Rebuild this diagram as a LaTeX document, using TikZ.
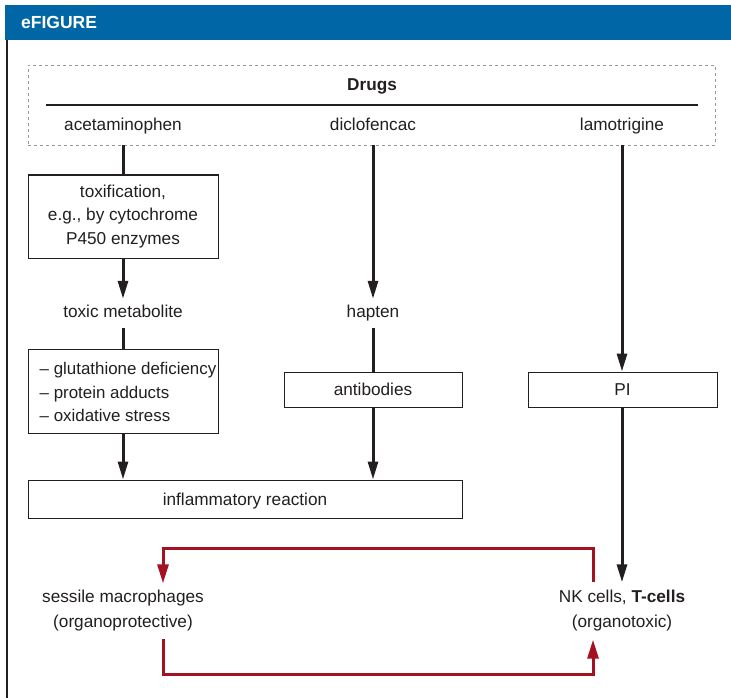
\documentclass[tikz,border=0pt]{standalone}
\usepackage{fontspec}
\setmainfont{Liberation Sans}
\usetikzlibrary{arrows.meta}
\definecolor{hdrblue}{RGB}{0,102,166}
\definecolor{darkred}{RGB}{163,18,32}
\definecolor{ink}{RGB}{35,31,32}
\tikzset{
  txt/.style={inner sep=0pt, align=center, text=ink, font=\fontsize{17.2}{23.5}\selectfont},
  oneline/.style={txt, text height=12.4pt, text depth=3.6pt},
  boxnode/.style={draw=ink, line width=1pt, inner sep=0pt, align=center, text=ink,
     font=\fontsize{17.2}{23.5}\selectfont},
  onebox/.style={boxnode, text height=12.4pt, text depth=0pt},
  conn/.style={draw=ink, line width=3pt},
  arr/.style={conn, -{Triangle[length=18pt,width=10pt]}},
  redarr/.style={draw=darkred, line width=3pt, -{Triangle[length=19pt,width=11pt]}},
}
\begin{document}
\begin{tikzpicture}[x=1pt,y=-1pt]
\useasboundingbox (0,0) rectangle (731,698);
\fill[white] (0,0) rectangle (731,698);
% header
\fill[hdrblue] (5,5) rectangle (731,40);
\node[anchor=west, inner sep=0pt, text=white, font=\fontsize{17.5}{20}\bfseries\selectfont] (hdr) at (21,22.5) {eFIGURE};
\draw[ink, line width=2pt] (7,40) -- (7,698);

% drugs box
\node[draw=gray!80, dashed, line width=0.9pt, minimum width=687pt, minimum height=80pt, inner sep=0pt] (drugsbox) at (371.5,105) {};
\node[oneline, font=\fontsize{17.2}{20}\bfseries\selectfont] (drugs) at (372,86) {Drugs};
\coordinate (hl) at (46,105);
\coordinate (hr) at (698,105);
\draw[ink, line width=1.4pt] (hl) -- (hr);
\node[oneline] (acet) at (123,126) {acetaminophen};
\node[oneline] (dicl) at (373,126) {diclofencac};
\node[oneline] (lamo) at (622,126) {lamotrigine};

% left column
\node[boxnode, minimum width=190pt, minimum height=83pt] (tox) at (123,216.5) {toxification,\\e.g., by cytochrome\\P450 enzymes};
\node[oneline, minimum height=29pt] (toxmet) at (123,313.5) {toxic metabolite};
\node[boxnode, minimum width=190pt, minimum height=84pt] (box2) at (123,391) {};
\node[txt, anchor=west, align=left, font=\fontsize{16.9}{23.5}\selectfont] (box2t) at ([xshift=12pt,yshift=-1pt]box2.west) {-- glutathione deficiency\\-- protein adducts\\-- oxidative stress};
\node[onebox, minimum width=434pt, minimum height=38pt] (inflam) at (245,499) {inflammatory reaction};

% middle column
\node[oneline, minimum height=29pt] (hapten) at (373,313.5) {hapten};
\node[onebox, minimum width=178pt, minimum height=35pt] (antib) at (373,389.5) {antibodies};

% right column
\node[onebox, minimum width=189pt, minimum height=35pt] (pi) at (622.5,389.5) {PI};

% bottom texts
\node[txt, minimum height=55pt, align=center, font=\fontsize{17.2}{25}\selectfont] (mac) at (123,611) {sessile macrophages\\(organoprotective)};
\node[txt, minimum height=57pt, align=center, font=\fontsize{17.2}{25}\selectfont] (nk) at (622,611) {NK cells, \textbf{T-cells}\\(organotoxic)};

% connectors
\draw[conn] (drugsbox.south -| tox.north) -- (tox.north);
\draw[arr] (tox.south) -- (toxmet.north);
\draw[conn] (toxmet.south) -- (box2.north);
\draw[arr] (box2.south) -- (box2.south |- inflam.north);

\draw[arr] (drugsbox.south -| hapten.north) -- (hapten.north);
\draw[conn] (hapten.south) -- (antib.north);
\draw[arr] (antib.south) -- (antib.south |- inflam.north);

\draw[arr] (drugsbox.south -| nk.north) -- (nk.north |- pi.north);
\draw[arr] (nk.north |- pi.south) -- (nk.north);

% red feedback loop
\coordinate (rr) at (593,0);
\coordinate (rl) at (163,0);
\coordinate (rtop) at (0,548);
\coordinate (rbot) at (0,674);
\draw[redarr] (nk.north -| rr) |- (rtop -| rl) -- (mac.north -| rl);
\draw[redarr] (mac.south -| rl) |- (rbot -| rr) -- (nk.south -| rr);
\end{tikzpicture}
\end{document}
